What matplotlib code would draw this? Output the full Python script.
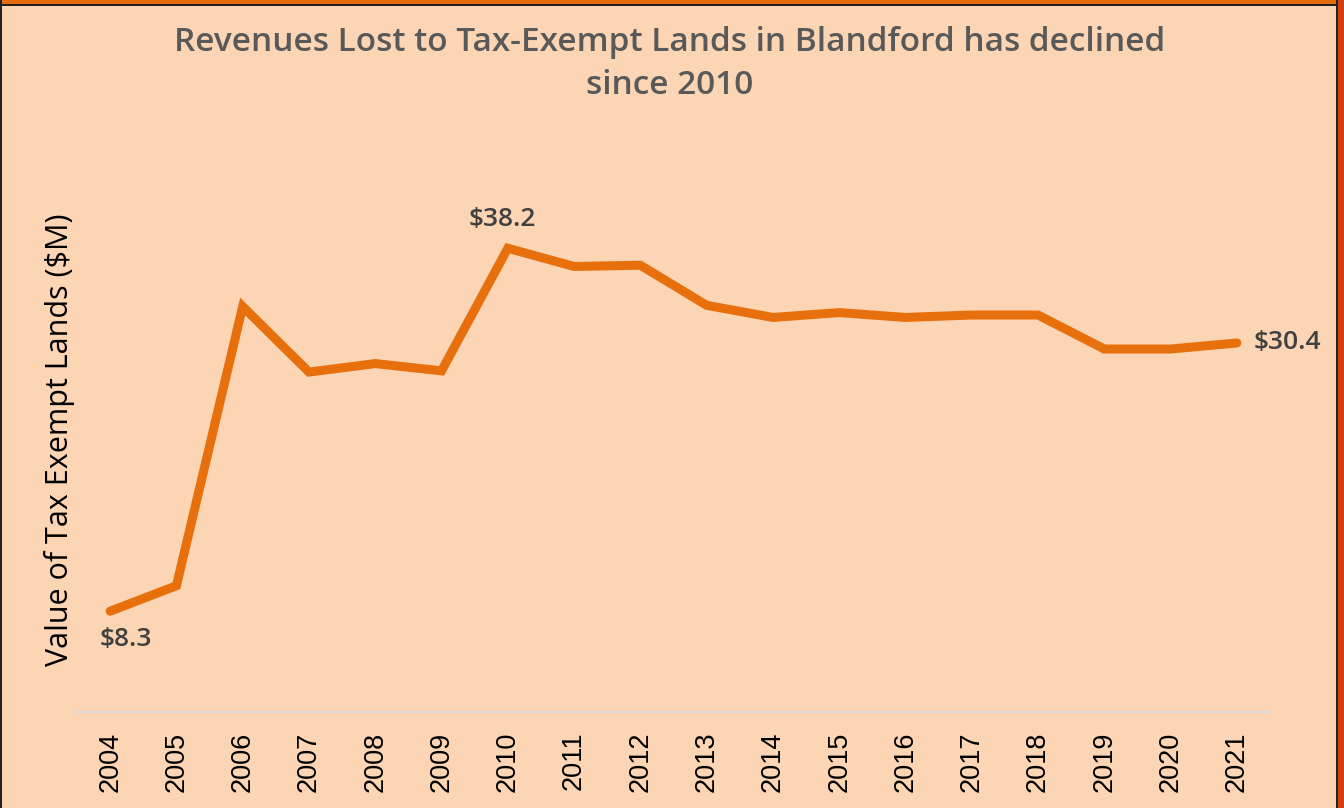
import matplotlib
matplotlib.use("Agg")
import matplotlib.pyplot as plt
from matplotlib.patches import Rectangle

years = ["2004", "2005", "2006", "2007", "2008", "2009", "2010", "2011", "2012",
         "2013", "2014", "2015", "2016", "2017", "2018", "2019", "2020", "2021"]
values = [8.3, 10.4, 33.4, 28.0, 28.7, 28.1, 38.2, 36.7, 36.8,
          33.5, 32.5, 32.9, 32.5, 32.7, 32.7, 29.9, 29.9, 30.4]
label_idx = [0, 6, 17]
title = "Revenues Lost to Tax-Exempt Lands in Blandford has declined\nsince 2010"
ylabel = "Value of Tax Exempt Lands ($M)"

BG = "#FCD5B5"
LINE = "#E8700C"

fig = plt.figure(figsize=(13.44, 8.08), dpi=100, facecolor=BG)
ax = fig.add_axes([77/1344, 96/808, 1193/1344, 562/808])
ax.set_facecolor(BG)
x = list(range(len(years)))
ax.plot(x, values, color=LINE, lw=6.5, solid_joinstyle="miter", solid_capstyle="round")
ax.set_xlim(-0.5, len(years) - 0.5)
ax.set_ylim(0, 562 / 12.14)
ax.set_xticks(x)
ax.set_xticklabels(years, rotation=90, fontsize=19.5, family="Liberation Sans", color="black")
ax.tick_params(axis="x", length=0, pad=14)
ax.set_yticks([])
for s in ["top", "right", "left"]:
    ax.spines[s].set_visible(False)
ax.spines["bottom"].set_color("#D9D9D9")
ax.spines["bottom"].set_linewidth(1.5)

lab_kw = dict(fontsize=19, family="Open Sans", weight="semibold", color="#404040")
i = label_idx[0]
ax.annotate(f"${values[i]}", (x[i], values[i]), xytext=(11, -11), textcoords="offset points",
            ha="center", va="top", **lab_kw)
i = label_idx[1]
ax.annotate(f"${values[i]}", (x[i], values[i]), xytext=(-4, 12), textcoords="offset points",
            ha="center", va="bottom", **lab_kw)
i = label_idx[2]
ax.annotate(f"${values[i]}", (x[i], values[i]), xytext=(12, 0), textcoords="offset points",
            ha="left", va="center", **lab_kw)

fig.text(670/1344, 1 - 64/808, title, ha="center", va="center", fontsize=24,
         family="Open Sans", weight="semibold", color="#595959", linespacing=1.4)
fig.text(60/1344, 1 - 440/808, ylabel, rotation=90, ha="center", va="center",
         fontsize=22, family="Open Sans", weight=500, color="black")

# border
fig.patches.append(Rectangle((0, 1 - 4/808), 1, 4/808, transform=fig.transFigure,
                             facecolor="#E46C0A", edgecolor="none"))
fig.patches.append(Rectangle((0, 1 - 5.5/808), 1, 1.5/808, transform=fig.transFigure,
                             facecolor="#222222", edgecolor="none"))
fig.patches.append(Rectangle((0, 0), 1.5/1344, 1, transform=fig.transFigure,
                             facecolor="#222222", edgecolor="none"))
fig.patches.append(Rectangle((1338/1344, 0), 6/1344, 1, transform=fig.transFigure,
                             facecolor="#D2400F", edgecolor="none"))
fig.patches.append(Rectangle((1336/1344, 0), 2/1344, 1, transform=fig.transFigure,
                             facecolor="#222222", edgecolor="none"))

fig.savefig("out.png", dpi=100, facecolor=BG)
